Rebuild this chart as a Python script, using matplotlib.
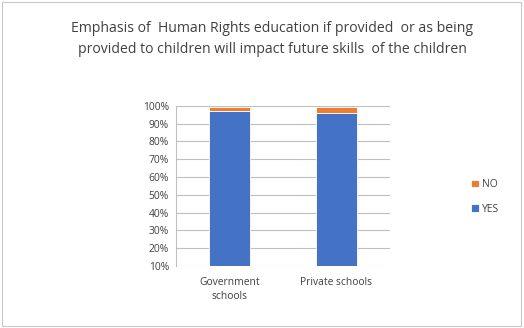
import matplotlib.pyplot as plt
from matplotlib.patches import Rectangle
from matplotlib.ticker import PercentFormatter

categories = ["Government\nschools", "Private schools"]
yes_share = [97.2, 95.7]
no_share = [2.2, 3.7]
y_ticks = [10, 20, 30, 40, 50, 60, 70, 80, 90, 100]

BLUE = "#4472C4"
ORANGE = "#ED7D31"
GRID = "#BFBFBF"
TEXT = "#404040"

plt.rcParams["font.family"] = ["Open Sans", "DejaVu Sans"]

fig = plt.figure(figsize=(5.24, 3.28), dpi=100)
fig.patches.append(Rectangle((0.004, 0.006), 0.99, 0.988, transform=fig.transFigure,
                             fill=False, edgecolor="#C8C8C8", linewidth=0.8))

ax = fig.add_axes([176 / 524, 1 - 266 / 328, 214 / 524, 160.3 / 328])
x = range(len(categories))
ax.bar(x, yes_share, width=0.39, color=BLUE, label="YES",
       edgecolor="white", linewidth=0.6, zorder=3)
ax.bar(x, no_share, width=0.39, bottom=yes_share, color=ORANGE, label="NO",
       edgecolor="white", linewidth=0.6, zorder=3)

ax.set_ylim(10, 100)
ax.set_xlim(-0.5, 1.5)
ax.set_yticks(y_ticks)
ax.yaxis.set_major_formatter(PercentFormatter(decimals=0))
ax.set_xticks(list(x))
ax.set_xticklabels(categories, fontsize=7.4, color=TEXT, linespacing=1.3)
ax.tick_params(axis="y", labelsize=7.4, labelcolor=TEXT, length=0, pad=5)
ax.tick_params(axis="x", length=0, pad=8)
ax.grid(axis="y", color=GRID, linewidth=0.8, zorder=0)
for side in ["top", "right", "bottom"]:
    ax.spines[side].set_visible(False)
ax.spines["left"].set_color(GRID)
ax.spines["left"].set_linewidth(0.8)

handles, labels = ax.get_legend_handles_labels()
fig.legend(handles[::-1], labels[::-1], loc="center left",
           bbox_to_anchor=(462 / 524, 1 - 197 / 328), frameon=False,
           fontsize=7.4, labelcolor=TEXT, handlelength=0.75, handleheight=0.75,
           handletextpad=0.3, labelspacing=1.3)

fig.text(272 / 524, 1 - 39 / 328,
         "Emphasis of  Human Rights education if provided  or as being\n"
         "provided to children will impact future skills  of the children",
         ha="center", va="center", fontsize=10.1, color=TEXT, linespacing=1.55)

fig.savefig("out.png", dpi=100)
